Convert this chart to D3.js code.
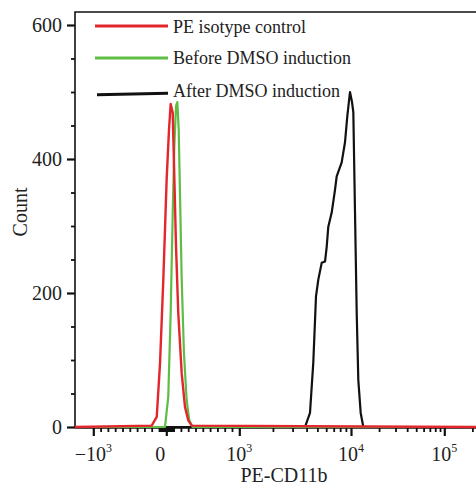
<!DOCTYPE html>
<html><head><meta charset="utf-8">
<script src="https://cdn.jsdelivr.net/npm/d3@7"></script>
<style>
body{margin:0;background:#fff;}
text{font-family:"Liberation Serif","Times New Roman",serif;fill:#222;}
</style></head>
<body><svg id="c" width="476" height="488"></svg>
<script>
// ---- data (fluorescence value, count) ----
const seriesNames = ["PE isotype control","Before DMSO induction","After DMSO induction"];
const seriesColors = ["#e3262b","#5fbd45","#111111"];
const redData = [[-1250,0],[-200,2],[-131,15],[-86,95],[-41,220],[5,370],[37,444],[60,482],[88,469],[105,395],[133,270],[164,170],[211,80],[256,30],[301,10],[348,2],[300000,0]];
const greenData = [[-1250,0],[-18,0],[27,45],[60,170],[88,320],[110,419],[133,479],[151,485],[170,444],[188,345],[211,220],[242,110],[279,40],[315,10],[362,0],[300000,0]];
const blackData = [[-1250,0],[3875,0],[4295,21],[4596,96],[4860,195],[5097,220],[5465,245],[5854,247],[6060,269],[6264,299],[6718,320],[7190,354],[7446,374],[8254,395],[8838,425],[9268,464],[9794,500],[10250,485],[10590,470],[11040,320],[11510,171],[11980,70],[12700,21],[13560,0],[300000,0]];
const yMajor = [0,200,400,600];
const yMinor = [50,100,150,250,300,350,450,500,550];
const xMajor = [-1000,0,1000,10000,100000];
const xTickBase = ["\u221210","0","10","10","10"];
const xTickExp = ["3","","3","4","5"];
const xMinor = [-900,-800,-700,-600,-500,-400,-300,-200,-100,-90,-80,-70,-60,-50,-40,-30,-20,-10,
  10,20,30,40,50,60,70,80,90,100,200,300,400,500,600,700,800,900,
  2000,3000,4000,5000,6000,7000,8000,9000,20000,30000,40000,50000,60000,70000,80000,90000,200000];

const svg = d3.select("#c");
const L = 75, T = 12, R = 480, B = 428;

// biexponential-like x scale: linear near zero, log above 10^3
const lin = d3.scaleLinear().domain([-1000,0,1000]).range([93.3,166.3,239.3]);
const lg = d3.scaleLinear().domain([3,4,5]).range([239.3,351,444.3]);
function xs(v){ return v <= 1000 ? lin(v) : lg(Math.log10(v)); }
xs.copy = () => xs; xs.range = () => [L, R]; xs.domain = () => [-1250, 300000];

const y = d3.scaleLinear().domain([0,600]).range([427,25]);

svg.append("defs").append("clipPath").attr("id","clip")
  .append("rect").attr("x",L).attr("y",T).attr("width",R-L).attr("height",B-T+4);

// x axis
const gx = svg.append("g").attr("transform",`translate(0,${B})`);
gx.append("g").call(d3.axisBottom(xs).tickValues(xMinor).tickSize(4).tickSizeOuter(0).tickFormat(""))
  .call(g=>{g.select(".domain").remove(); g.selectAll("line").attr("stroke","#111").attr("stroke-width",1.8);});
gx.append("g").call(d3.axisBottom(xs).tickValues(xMajor).tickSize(8).tickSizeOuter(0).tickFormat(""))
  .call(g=>{g.select(".domain").remove(); g.selectAll("line").attr("stroke","#111").attr("stroke-width",2.2);});
const xl = svg.append("g");
xMajor.forEach((v,i)=>{
  const t = xl.append("text").attr("x", xs(v) + (v===0 ? -6 : 0)).attr("y",461)
    .attr("text-anchor","middle").attr("font-size",20);
  t.append("tspan").text(xTickBase[i]);
  if (xTickExp[i]) t.append("tspan").attr("font-size",12).attr("dy",-9).text(xTickExp[i]);
});

// y axis
const gy = svg.append("g").attr("transform",`translate(${L},0)`);
gy.append("g").call(d3.axisLeft(y).tickValues(yMinor).tickSize(4).tickFormat(""))
  .call(g=>{g.select(".domain").remove(); g.selectAll("line").attr("stroke","#111").attr("stroke-width",1.8);});
gy.append("g").call(d3.axisLeft(y).tickValues(yMajor).tickSize(8).tickPadding(5).tickFormat(d3.format("d")))
  .call(g=>{g.select(".domain").remove(); g.selectAll("line").attr("stroke","#111").attr("stroke-width",2.2);
    g.selectAll("text").attr("font-size",20).attr("font-family","Liberation Serif").attr("fill","#222");});

// frame
svg.append("path").attr("d",`M${L},${B}V${T}H${R}`).attr("fill","none").attr("stroke","#111").attr("stroke-width",1.6);
svg.append("line").attr("x1",L).attr("x2",R).attr("y1",B).attr("y2",B).attr("stroke","#111").attr("stroke-width",1.6);

// curves
const line = d3.line().x(d=>xs(d[0])).y(d=>y(d[1]));
const plot = svg.append("g").attr("clip-path","url(#clip)");
[[blackData,2],[greenData,1],[redData,0]].forEach(([d,i])=>{
  plot.append("path").attr("d",line(d)).attr("fill","none")
    .attr("stroke",seriesColors[i]).attr("stroke-width", i===0 ? 2.4 : 2.2).attr("stroke-linejoin","round");
});

// legend
const legY = [26,58,94];
const legTextY = [33,64,97];
seriesNames.forEach((n,i)=>{
  svg.append("line").attr("x1", i===2 ? 97 : 95).attr("x2",168).attr("y1",legY[i]+(i===2?0.7:0)).attr("y2",legY[i]-(i===2?0.7:0))
    .attr("stroke",seriesColors[i]).attr("stroke-width",3);
  svg.append("text").attr("x",173).attr("y",legTextY[i]).attr("font-size",18).text(n);
});

// axis titles
svg.append("text").attr("transform","translate(27,212) rotate(-90)").attr("text-anchor","middle").attr("font-size",20).text("Count");
svg.append("text").attr("x",284).attr("y",482).attr("text-anchor","middle").attr("font-size",20).text("PE-CD11b");
</script></body></html>
